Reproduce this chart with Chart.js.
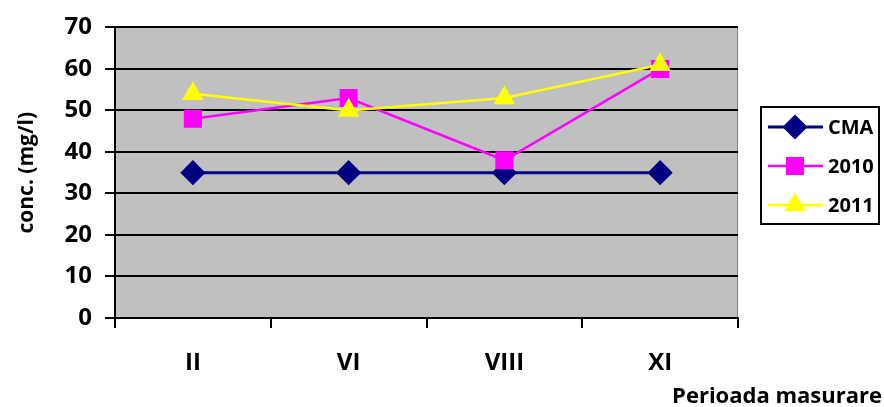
<!DOCTYPE html>
<html lang="ro">
<head>
    <meta charset="UTF-8">
    <title>conc. (mg/l)</title>
    <style>
        body { margin: 0; background: #fff; }
    </style>
</head>
<body>
    <canvas id="myChart" width="884" height="407"></canvas>
    <script src="https://cdn.jsdelivr.net/npm/chart.js"></script>
    <script>
    // values
    const periods = ['II', 'VI', 'VIII', 'XI'];
    const cma = [35, 35, 35, 35];
    const v2010 = [48, 53, 38, 60];
    const v2011 = [54, 50, 53, 61];
    const yMin = 0, yMax = 70, yStep = 10;

    const FONT = '"Open Sans", sans-serif';

    // grey plot background + legend box + x title
    const excelBits = {
        id: 'excelBits',
        beforeDraw(chart) {
            const { ctx, chartArea: a } = chart;
            ctx.save();
            ctx.fillStyle = '#C0C0C0';
            ctx.fillRect(a.left, a.top, a.right - a.left, a.bottom - a.top);
            ctx.strokeStyle = '#808080';
            ctx.lineWidth = 1;
            ctx.beginPath();
            ctx.moveTo(a.right - 0.5, a.top);
            ctx.lineTo(a.right - 0.5, a.bottom);
            ctx.stroke();
            ctx.restore();
        },
        afterDraw(chart) {
            const ctx = chart.ctx;
            ctx.save();
            // legend
            ctx.strokeStyle = '#000';
            ctx.lineWidth = 2;
            ctx.strokeRect(761, 107, 118, 117);
            chart.data.datasets.forEach((ds, i) => {
                const y = 127 + i * 39;
                ctx.strokeStyle = ds.borderColor;
                ctx.lineWidth = ds.borderWidth;
                ctx.beginPath();
                ctx.moveTo(768, y);
                ctx.lineTo(823, y);
                ctx.stroke();
                ctx.fillStyle = ds.pointBackgroundColor;
                ctx.strokeStyle = ds.pointBorderColor;
                Chart.helpers.drawPoint(ctx, {
                    pointStyle: ds.pointStyle,
                    radius: ds.pointRadius,
                    rotation: 0,
                    borderWidth: 1
                }, 795, y);
                ctx.fillStyle = '#000';
                ctx.font = 'bold 20px ' + FONT;
                ctx.textAlign = 'left';
                ctx.textBaseline = 'middle';
                ctx.fillText(ds.label, 828, y + 1);
            });
            // x axis title
            ctx.fillStyle = '#000';
            ctx.font = 'bold 22px ' + FONT;
            ctx.textAlign = 'right';
            ctx.textBaseline = 'middle';
            ctx.fillText('Perioada masurare', 882, 397);
            ctx.restore();
        }
    };

    const ctx = document.getElementById('myChart');

    const myChart = new Chart(ctx, {
        type: 'line',
        data: {
            labels: periods,
            datasets: [{
                label: 'CMA',
                data: cma,
                borderColor: '#000080',
                backgroundColor: '#000080',
                pointBackgroundColor: '#000080',
                pointBorderColor: '#000080',
                pointStyle: 'rectRot',
                pointRadius: 10.5,
                borderWidth: 3,
                order: 2
            }, {
                label: '2010',
                data: v2010,
                borderColor: '#FF00FF',
                backgroundColor: '#FF00FF',
                pointBackgroundColor: '#FF00FF',
                pointBorderColor: '#FF00FF',
                pointStyle: 'rect',
                pointRadius: 11,
                borderWidth: 2.5,
                order: 1
            }, {
                label: '2011',
                data: v2011,
                borderColor: '#FFFF00',
                backgroundColor: '#FFFF00',
                pointBackgroundColor: '#FFFF00',
                pointBorderColor: '#FFFF00',
                pointStyle: 'triangle',
                pointRadius: 10,
                borderWidth: 2.5,
                order: 0
            }]
        },
        options: {
            responsive: false,
            animation: false,
            layout: { padding: { top: 25, right: 146, left: 0, bottom: 0 } },
            plugins: {
                legend: { display: false },
                tooltip: { enabled: false }
            },
            scales: {
                x: {
                    offset: true,
                    grid: {
                        offset: true,
                        drawOnChartArea: false,
                        color: '#000',
                        lineWidth: 2,
                        tickLength: 10
                    },
                    border: { color: '#000', width: 2 },
                    ticks: {
                        color: '#000',
                        padding: 21,
                        font: { family: FONT, size: 24, weight: 'bold' }
                    },
                    afterFit(s) { s.height = 407 - 318; }
                },
                y: {
                    min: yMin,
                    max: yMax,
                    grid: {
                        color: '#000',
                        lineWidth: 2,
                        tickLength: 10
                    },
                    border: { color: '#000', width: 2 },
                    ticks: {
                        stepSize: yStep,
                        color: '#000',
                        padding: 13,
                        font: { family: FONT, size: 24, weight: 'bold' }
                    },
                    title: {
                        display: true,
                        text: 'conc. (mg/l)',
                        color: '#000',
                        padding: { top: 14, bottom: 0 },
                        font: { family: FONT, size: 21, weight: 'bold' }
                    },
                    afterFit(s) { s.width = 115; }
                }
            }
        },
        plugins: [excelBits]
    });
    </script>
</body>
</html>
